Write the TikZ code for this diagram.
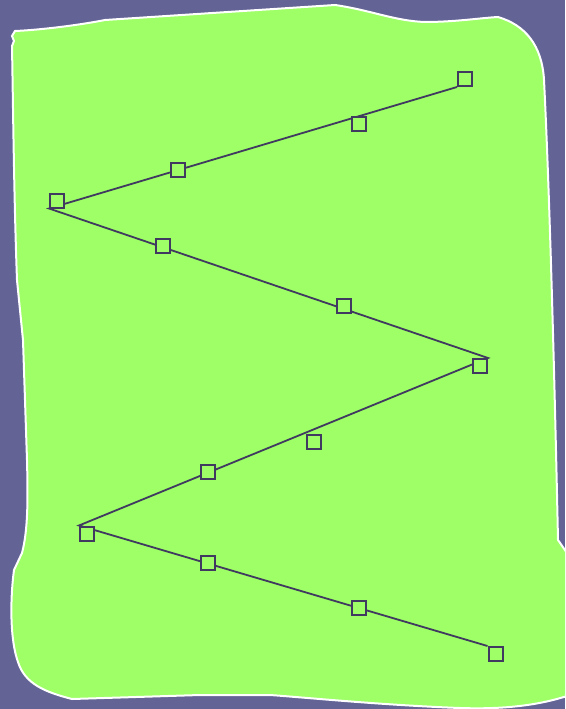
\documentclass[tikz,border=0pt]{standalone}
\begin{document}
\definecolor{bgpurple}{RGB}{99,99,150}
\definecolor{blobgreen}{RGB}{158,255,102}
\definecolor{inkdark}{RGB}{64,58,96}
\begin{tikzpicture}[x=1pt,y=-1pt,
  mark box/.style={draw=inkdark,fill=blobgreen,line width=2pt,minimum size=14pt,inner sep=0pt,shape=rectangle},
  zigline/.style={draw=inkdark,line width=1.8pt}]
\fill[bgpurple] (0,0) rectangle (565,709);
\useasboundingbox (0,0) rectangle (565,709);
\begin{scope}
\clip (0,0) rectangle (565,709);
\filldraw[fill=blobgreen,draw=white,line width=2pt]
 (15,31)
 .. controls (40,30) and (80,25) .. (105,20)
 -- (335,5)
 .. controls (370,10) and (395,21) .. (425,22)
 .. controls (455,22) and (480,18) .. (498,17)
 .. controls (525,25) and (542,45) .. (544,80)
 .. controls (550,200) and (555,400) .. (558,540)
 -- (567,553)
 -- (567,696)
 .. controls (530,708) and (490,709) .. (460,708)
 .. controls (380,705) and (300,697) .. (270,695)
 -- (200,695)
 -- (72,699)
 .. controls (45,692) and (25,684) .. (18,662)
 .. controls (10,640) and (10,600) .. (14,570)
 -- (22,553)
 .. controls (28,530) and (28,500) .. (27,460)
 -- (23,340)
 -- (17,280)
 .. controls (14,200) and (13,100) .. (12,46)
 -- (14,41) -- (12,36) -- cycle;
\end{scope}
\node[mark box] (s1) at (465,79) {};
\node[mark box] (s2) at (359,124) {};
\node[mark box] (s3) at (178,170) {};
\node[mark box] (s4) at (57,200.5) {};
\node[mark box] (s5) at (162.5,245.5) {};
\node[mark box] (s6) at (344,306) {};
\node[mark box] (s7) at (480,366) {};
\node[mark box] (s8) at (314,442) {};
\node[mark box] (s9) at (208,472) {};
\node[mark box] (s10) at (87,533.5) {};
\node[mark box] (s11) at (208,563) {};
\node[mark box] (s12) at (359,608) {};
\node[mark box] (s13) at (495.5,654) {};
\draw[zigline] (s1.south west) -- (s4.south west) -- (s7.north east) -- (s10.north west) -- (s13.north west);
\foreach \i in {1,...,13} {
  \node[mark box] at (s\i) {};
}
\end{tikzpicture}
\end{document}
